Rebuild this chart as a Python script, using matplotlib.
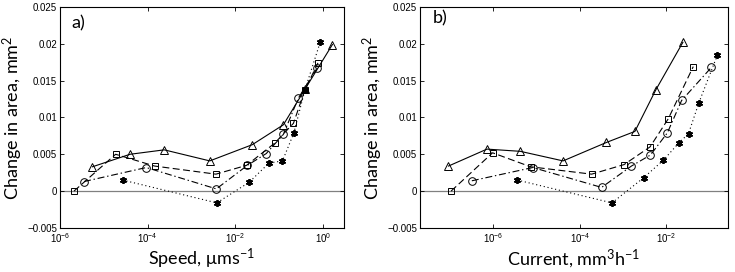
import numpy as np
import matplotlib.pyplot as plt
from matplotlib.ticker import LogLocator, NullLocator

plt.rcParams['font.family'] = ['Lato', 'DejaVu Sans']
plt.rcParams['mathtext.fontset'] = 'custom'
plt.rcParams['mathtext.rm'] = 'Lato'
plt.rcParams['mathtext.it'] = 'Lato:italic'
plt.rcParams['lines.scale_dashes'] = False

# panel a) speed (log10 of x) and change in area
a_tri_lx = [-5.26, -4.40, -3.62, -2.58, -1.61, -0.90, -0.41, 0.22]
a_tri_y = [0.0033, 0.0050, 0.0056, 0.0041, 0.0063, 0.0090, 0.0138, 0.0199]
a_sq_lx = [-5.68, -4.73, -3.84, -2.44, -1.74, -1.10, -0.67, -0.41, -0.11]
a_sq_y = [0.0, 0.0050, 0.0034, 0.0023, 0.0035, 0.0065, 0.0092, 0.0137, 0.0174]
a_ci_lx = [-5.45, -4.03, -2.43, -1.72, -1.29, -0.90, -0.56, -0.13]
a_ci_y = [0.0013, 0.0032, 0.0003, 0.0035, 0.0051, 0.0077, 0.0126, 0.0167]
a_st_lx = [-4.57, -2.42, -1.68, -1.23, -0.92, -0.66, -0.41, -0.06]
a_st_y = [0.0015, -0.0016, 0.0012, 0.0038, 0.0041, 0.0079, 0.0137, 0.0202]

# panel b) current (log10 of x) and change in area
b_tri_lx = [-7.04, -6.15, -5.38, -4.39, -3.39, -2.73, -2.25, -1.62]
b_tri_y = [0.0034, 0.0057, 0.0054, 0.0041, 0.0066, 0.0081, 0.0137, 0.0202]
b_sq_lx = [-6.98, -6.02, -5.14, -3.73, -2.98, -2.38, -1.96, -1.38]
b_sq_y = [0.0, 0.0052, 0.0033, 0.0023, 0.0036, 0.0060, 0.0098, 0.0169]
b_ci_lx = [-6.50, -5.09, -3.50, -2.81, -2.37, -1.98, -1.65, -0.96]
b_ci_y = [0.0014, 0.0032, 0.0005, 0.0034, 0.0049, 0.0079, 0.0123, 0.0168]
b_st_lx = [-5.45, -3.26, -2.53, -2.07, -1.72, -1.49, -1.25, -0.82]
b_st_y = [0.0015, -0.0016, 0.0018, 0.0042, 0.0065, 0.0078, 0.0120, 0.0185]

DASHED = (0, (5, 2.5))
DASHDOT = (0, (5, 2, 1, 2))
DOTTED = (0, (0.8, 2))

fig = plt.figure(figsize=(7.35, 2.72), dpi=100)
ax1 = fig.add_axes([0.0816, 0.162, 0.386, 0.8125])
ax2 = fig.add_axes([0.5714, 0.162, 0.4186, 0.8125])


def draw(ax, series, xlim, xlabel, tag, tag_xy):
    ax.axhline(0, color='#808080', lw=0.9, zorder=1)
    for lx, y, m, ls, fc, ms, mw in series:
        ax.plot(10 ** np.array(lx), y, color='k', ls=ls, lw=0.8, marker=m,
                mfc=fc, mec='k', ms=ms, mew=mw, zorder=3)
    ax.set_xscale('log')
    ax.set_xlim(*xlim)
    ax.set_ylim(-0.005, 0.025)
    ax.set_yticks([-0.005, 0, 0.005, 0.01, 0.015, 0.02, 0.025])
    ax.set_yticklabels(['\u22120.005', '0', '0.005', '0.01', '0.015', '0.02', '0.025'])
    ax.xaxis.set_major_locator(LogLocator(base=100))
    ax.xaxis.set_minor_locator(NullLocator())
    ax.tick_params(direction='in', top=True, right=True, length=3, width=0.6,
                   labelsize=7, pad=2)
    for lab in ax.get_xticklabels() + ax.get_yticklabels():
        lab.set_family(['Liberation Sans', 'DejaVu Sans'])
    for s in ax.spines.values():
        s.set_linewidth(0.8)
    ax.set_xlabel(xlabel, fontsize=13, labelpad=2)
    ax.set_ylabel('Change in area, mm$^2$', fontsize=13, labelpad=2)
    ax.text(tag_xy[0], tag_xy[1], tag, transform=ax.transAxes, fontsize=13,
            va='top', ha='left')


STAR = (6, 2, 0)

draw(ax1, [(a_tri_lx, a_tri_y, '^', '-', 'none', 5.5, 0.7),
           (a_sq_lx, a_sq_y, 's', DASHED, 'none', 4.5, 0.7),
           (a_ci_lx, a_ci_y, 'o', DASHDOT, 'none', 5.5, 0.7),
           (a_st_lx, a_st_y, STAR, DOTTED, 'k', 5, 1.3)],
     (1e-6, 3.0), 'Speed, \u03bcms$^{-1}$', 'a)', (0.04, 0.96))
draw(ax2, [(b_tri_lx, b_tri_y, '^', '-', 'none', 5.5, 0.7),
           (b_sq_lx, b_sq_y, 's', DASHED, 'none', 4.5, 0.7),
           (b_ci_lx, b_ci_y, 'o', DASHDOT, 'none', 5.5, 0.7),
           (b_st_lx, b_st_y, STAR, DOTTED, 'k', 5, 1.3)],
     (2.0e-8, 0.26), 'Current, mm$^3$h$^{-1}$', 'b)', (0.04, 0.985))

fig.savefig('out.png', dpi=100)
